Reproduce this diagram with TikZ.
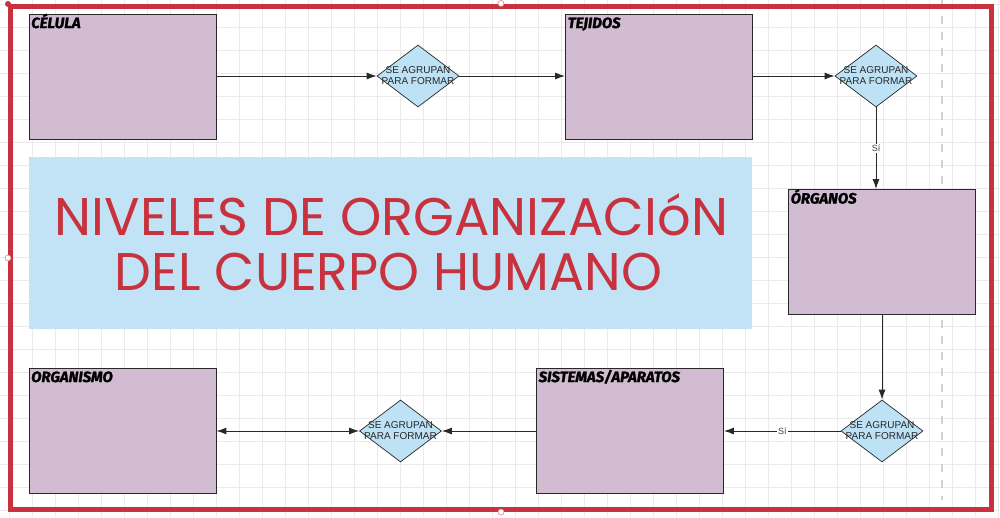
\documentclass[tikz,border=0pt]{standalone}
\usepackage{fontspec}
\setmainfont{Liberation Sans}
\newfontfamily\titlefont{Poppins}
\newfontfamily\lblfont{Fira Sans}[BoldItalicFeatures={FakeBold=1.6}]
\usetikzlibrary{shapes.geometric,arrows.meta,calc}
\definecolor{gridc}{RGB}{234,234,234}
\definecolor{dashc}{RGB}{210,210,210}
\definecolor{boxc}{RGB}{209,188,209}
\definecolor{diac}{RGB}{190,226,245}
\definecolor{titlebg}{RGB}{194,227,245}
\definecolor{redc}{RGB}{200,50,62}
\definecolor{linec}{RGB}{40,40,40}
\begin{document}
\begin{tikzpicture}[x=1pt,y=-1pt,
  lvlbox/.style={draw=linec,fill=boxc,line width=0.9pt,minimum width=187pt,minimum height=125pt,inner sep=0pt},
  lbl/.style={anchor=base west,inner sep=0pt,font=\lblfont\bfseries\itshape\fontsize{15}{15}\selectfont},
  dia/.style={diamond,draw=linec,fill=diac,line width=0.7pt,minimum width=82pt,minimum height=62pt,inner sep=0pt},
  diatext/.style={align=center,inner sep=0pt,text=black!85,font=\fontsize{10}{10.5}\selectfont},
  conn/.style={draw=linec,line width=1pt,-{Latex[length=10pt,width=7pt]}},
  yeslbl/.style={fill=white,inner sep=1pt,text=black!75,font=\fontsize{9}{9}\selectfont},
  titletext/.style={anchor=base,inner sep=0pt,text=redc,font=\titlefont\fontsize{53}{53}\selectfont},
  handle/.style={circle,draw=redc!60,fill=white,line width=0.6pt,minimum size=6pt,inner sep=0pt}]
\useasboundingbox (0,0) rectangle (1000,517);
\fill[white] (0,0) rectangle (1000,517);
\begin{scope}
  \clip (0,0) rectangle (1000,517);
  \foreach \x in {9,32,...,1000} \draw[gridc,line width=0.6pt] (\x,0) -- (\x,517);
  \foreach \y in {4.7,27.7,...,517} \draw[gridc,line width=0.6pt] (0,\y) -- (1000,\y);
\end{scope}
\draw[dashc,line width=1.5pt,dash pattern=on 8pt off 8pt] (942,0) -- (942,500);
% title
\node[fill=titlebg,minimum width=723pt,minimum height=172pt,inner sep=0pt] (tb) at (390.5,243) {};
\node[titletext] (t1) at (391.5,235) {\resizebox{673pt}{\height}{NIVELES DE ORGANIZACIóN}};
\node[titletext] (t2) at (388.5,290) {\resizebox{547pt}{\height}{DEL CUERPO HUMANO}};
% boxes
\node[lvlbox] (celula) at (122.5,76.5) {};
\node[lvlbox] (tejidos) at (659,76.5) {};
\node[lvlbox] (organos) at (882,252) {};
\node[lvlbox] (sistemas) at (630,430.5) {};
\node[lvlbox] (organismo) at (122.5,430.5) {};
\node[lbl] (lc) at ($(celula.north west)+(2.5,14.5)$) {CÉLULA};
\node[lbl] (lt) at ($(tejidos.north west)+(2.5,14.5)$) {TEJIDOS};
\node[lbl] (lo) at ($(organos.north west)+(2.5,14.5)$) {ÓRGANOS};
\node[lbl] (ls) at ($(sistemas.north west)+(2.5,14.5)$) {SISTEMAS/APARATOS};
\node[lbl] (lg) at ($(organismo.north west)+(2.5,14.5)$) {ORGANISMO};
% diamonds
\node[dia] (d1) at (418,76) {};
\node[dia] (d2) at (876,76) {};
\node[dia] (d3) at (882,431) {};
\node[dia] (d4) at (400.5,431) {};
\foreach \d in {d1,d2,d3,d4} \node[diatext] at ($(\d)+(0,-0.5)$) {SE AGRUPAN\\PARA FORMAR};
% connectors
\draw[conn] (celula.east|-d1) -- (d1.west);
\draw[conn] (d1.east) -- (tejidos.west|-d1);
\draw[conn] (tejidos.east|-d2) -- (d2.west);
\draw[conn] (d2.south) -- node[yeslbl] (s1) {Sí} (d2.south|-organos.north);
\draw[conn] (organos.south) -- (d3.north);
\draw[conn] (d3.west) -- node[yeslbl] (s2) {Sí} (sistemas.east|-d3);
\draw[conn] (sistemas.west|-d4) -- (d4.east);
\draw[conn,{Latex[length=10pt,width=7pt]}-{Latex[length=10pt,width=7pt]}] (d4.west) -- (organismo.east|-d4);
% frame
\draw[redc,line width=5pt] (10,6.5) rectangle (991.5,509);
\fill[redc] (8,4) circle (3pt);
\node[handle] (h1) at (501,3.5) {};
\node[handle] (h2) at (8,258) {};
\node[handle] (h3) at (501,512) {};
\end{tikzpicture}
\end{document}
